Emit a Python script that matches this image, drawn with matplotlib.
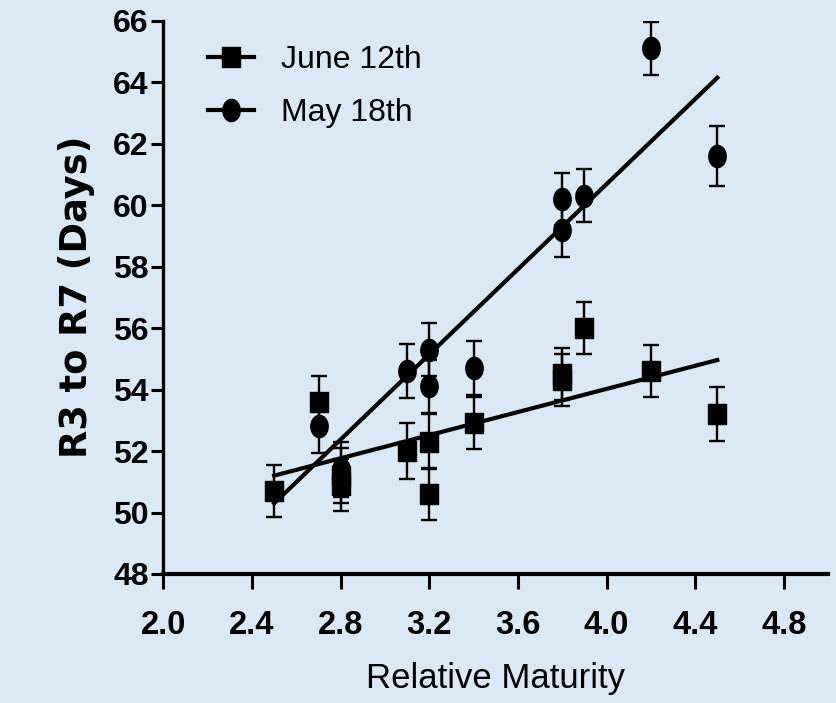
import numpy as np
import matplotlib
matplotlib.use('Agg')
import matplotlib.pyplot as plt
from matplotlib.lines import Line2D

# maturity group of each entry, days from R3 to R7, and SEM
june_rm = [2.5, 2.7, 2.8, 2.8, 3.1, 3.2, 3.2, 3.4, 3.8, 3.8, 3.9, 4.2, 4.5]
june_days = [50.7, 53.6, 51.2, 50.9, 52.0, 52.3, 50.6, 52.9, 54.5, 54.3, 56.0, 54.6, 53.2]
june_err = [0.85, 0.85, 0.9, 0.85, 0.9, 0.9, 0.85, 0.85, 0.85, 0.85, 0.85, 0.85, 0.87]

may_rm = [2.7, 2.8, 3.1, 3.2, 3.2, 3.4, 3.8, 3.8, 3.9, 4.2, 4.5]
may_days = [52.8, 51.4, 54.6, 55.3, 54.1, 54.7, 60.2, 59.2, 60.3, 65.1, 61.6]
may_err = [0.85, 0.9, 0.87, 0.85, 0.85, 0.87, 0.85, 0.88, 0.86, 0.87, 0.98]

# linear fits (value at RM 2.5, slope per RM unit)
fit_range = [2.5, 4.5]
june_fit = (51.2, 1.88)
may_fit = (50.3, 6.92)

x_ticks = [2.0, 2.4, 2.8, 3.2, 3.6, 4.0, 4.4, 4.8]
y_ticks = [48, 50, 52, 54, 56, 58, 60, 62, 64, 66]

bg = '#dbe8f5'
font = 'Liberation Sans'

# taller-than-wide markers
sq = [(-0.43, -0.5), (0.43, -0.5), (0.43, 0.5), (-0.43, 0.5), (-0.43, -0.5)]
t = np.linspace(0, 2 * np.pi, 60)
ell = list(zip(0.39 * np.cos(t), 0.5 * np.sin(t)))

fig = plt.figure(figsize=(8.36, 7.03), dpi=100, facecolor=bg)
ax = fig.add_axes([0.1955, 0.1835, 0.795, 0.7872], facecolor=bg)

ebkw = dict(ls='none', color='black', ecolor='black', elinewidth=1.7,
            capsize=6, capthick=1.7, zorder=3)
ax.errorbar(june_rm, june_days, yerr=june_err, marker=sq, markersize=15, **ebkw)
ax.errorbar(may_rm, may_days, yerr=may_err, marker=ell, markersize=16, **ebkw)

xs = np.array(fit_range)
ax.plot(xs, june_fit[0] + june_fit[1] * (xs - 2.5), color='black', lw=3, zorder=4)
ax.plot(xs, may_fit[0] + may_fit[1] * (xs - 2.5), color='black', lw=3, zorder=4)

ax.set_xlim(2.0, 5.0)
ax.set_ylim(48, 66)
ax.set_xticks(x_ticks)
ax.set_yticks(y_ticks)
ax.set_xticklabels(['%.1f' % v for v in x_ticks], family=font,
                   fontweight='bold', fontsize=23.5)
ax.set_yticklabels([str(v) for v in y_ticks], family=font,
                   fontweight='bold', fontsize=23)

for s in ['top', 'right']:
    ax.spines[s].set_visible(False)
ax.spines['left'].set_linewidth(2.4)
ax.spines['bottom'].set_linewidth(3.0)
ax.tick_params(axis='x', direction='out', length=11, width=2.2, pad=15)
ax.tick_params(axis='y', direction='out', length=8.5, width=2.2, pad=2)

ax.set_xlabel('Relative Maturity', family=font, fontsize=25, labelpad=15)
ax.set_ylabel('R3 to R7 (Days)', family='DejaVu Sans', fontweight='bold',
              fontsize=26.5, labelpad=13)

handles = [Line2D([], [], color='black', lw=3, marker=sq, markersize=15),
           Line2D([], [], color='black', lw=3, marker=ell, markersize=16)]
ax.legend(handles, ['June 12th', 'May 18th'], loc='upper left',
          bbox_to_anchor=(0.067, 0.956), borderaxespad=0, borderpad=0,
          frameon=False, prop={'family': font, 'size': 23},
          handlelength=1.45, handletextpad=0.85, labelspacing=0.72)

fig.savefig('out.png', dpi=100, facecolor=bg)
